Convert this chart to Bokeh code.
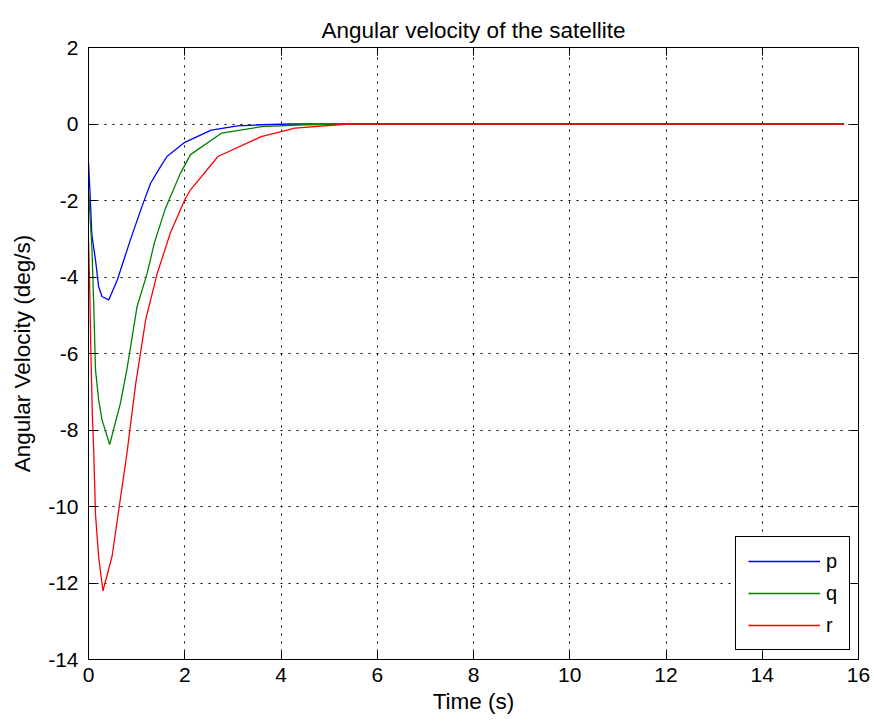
from bokeh.plotting import figure
from bokeh.models import LinearAxis, FixedTicker, Legend, LegendItem, Range1d
from bokeh.embed import file_html
from bokeh.resources import INLINE

# ---- data ----
title_text = "Angular velocity of the satellite"
x_label = "Time (s)"
y_label = "Angular Velocity (deg/s)"
x_ticks = [0, 2, 4, 6, 8, 10, 12, 14, 16]
y_ticks = [-14, -12, -10, -8, -6, -4, -2, 0, 2]

p_t = [0, 0.03, 0.07, 0.145, 0.21, 0.28, 0.42, 0.6, 0.87, 1.11, 1.29, 1.5, 1.63,
       2.0, 2.55, 3.1, 3.6, 4.2, 5.5, 15.7]
p_v = [-1.0, -1.75, -2.9, -3.55, -4.25, -4.51, -4.6, -4.07, -3.03, -2.16, -1.55,
       -1.11, -0.85, -0.48, -0.16, -0.05, -0.02, 0.0, 0.0, 0.0]

q_t = [0, 0.04, 0.07, 0.11, 0.145, 0.21, 0.28, 0.44, 0.665, 0.8, 1.01, 1.22,
       1.37, 1.6, 1.91, 2.12, 2.76, 3.6, 4.5, 5.5, 15.7]
q_v = [-1.7, -2.6, -3.2, -4.77, -6.42, -7.2, -7.73, -8.38, -7.29, -6.4, -4.77,
       -3.9, -3.1, -2.2, -1.29, -0.8, -0.24, -0.07, -0.02, 0.0, 0.0]

r_t = [0, 0.02, 0.05, 0.08, 0.11, 0.145, 0.21, 0.3, 0.49, 0.63, 0.8, 0.98, 1.19,
       1.43, 1.7, 2.0, 2.12, 2.69, 3.59, 4.29, 5.4, 15.7]
r_v = [-3.0, -4.0, -6.0, -7.6, -8.6, -10.2, -11.3, -12.21, -11.3, -10.08, -8.6,
       -6.8, -5.1, -3.9, -2.85, -1.98, -1.72, -0.85, -0.33, -0.11, 0.0, 0.0]

series_names = ["p", "q", "r"]
series_colors = ["#0000ff", "#008000", "#ff0000"]

FONT = "Liberation Sans"

p = figure(width=874, height=722, x_range=Range1d(0, 16), y_range=Range1d(-14, 2),
           output_backend="svg", toolbar_location=None,
           min_border_left=88, min_border_right=16, min_border_top=47, min_border_bottom=63,
           background_fill_color="white", border_fill_color="white")

p.title.text = title_text
p.title.align = "center"
p.title.text_font = FONT
p.title.text_font_size = "22.5px"
p.title.text_font_style = "normal"
p.title.text_color = "black"

p.outline_line_color = "black"
p.outline_line_width = 1
p.outline_line_alpha = 1

for ax in (p.xaxis[0], p.yaxis[0]):
    ax.major_tick_in = 8
    ax.major_tick_out = 0
    ax.minor_tick_line_color = None
    ax.axis_line_color = "black"
    ax.major_tick_line_color = "black"
    ax.major_label_text_font = FONT
    ax.major_label_text_font_size = "21px"
    ax.major_label_text_color = "black"
    ax.axis_label_text_font = FONT
    ax.axis_label_text_font_size = "22.5px"
    ax.axis_label_text_font_style = "normal"
    ax.axis_label_text_color = "black"

p.xaxis.ticker = FixedTicker(ticks=x_ticks)
p.yaxis.ticker = FixedTicker(ticks=y_ticks)
p.yaxis.major_label_overrides = {t: str(t) for t in y_ticks}
p.xaxis.axis_label = x_label
p.yaxis.axis_label = y_label
p.xaxis.major_label_standoff = 8
p.xaxis.axis_label_standoff = 4
p.yaxis.major_label_standoff = 10
p.yaxis.axis_label_standoff = 10

for loc, tick in (("above", x_ticks), ("right", y_ticks)):
    ax = LinearAxis(ticker=FixedTicker(ticks=tick))
    ax.major_tick_in = 8
    ax.major_tick_out = 0
    ax.minor_tick_line_color = None
    ax.major_label_text_color = None
    ax.major_label_text_font_size = "1px"
    ax.major_label_standoff = 0
    ax.axis_line_color = "black"
    ax.major_tick_line_color = "black"
    p.add_layout(ax, loc)

for g in (p.xgrid[0], p.ygrid[0]):
    g.grid_line_color = "black"
    g.grid_line_dash = "2 6"
    g.grid_line_width = 1
    g.grid_line_alpha = 1

renderers = []
for t, v, c in ((p_t, p_v, series_colors[0]), (q_t, q_v, series_colors[1]), (r_t, r_v, series_colors[2])):
    renderers.append(p.line(x=t, y=v, line_color=c, line_width=1.3))

legend = Legend(items=[LegendItem(label=n, renderers=[r]) for n, r in zip(series_names, renderers)],
                location=(647, 9))
legend.border_line_color = "black"
legend.border_line_width = 1
legend.border_line_alpha = 1
legend.background_fill_color = "white"
legend.background_fill_alpha = 1
legend.glyph_width = 72
legend.glyph_height = 24
legend.label_height = 24
legend.label_width = 10
legend.spacing = 8
legend.padding = 12
legend.margin = 0
legend.label_standoff = 6
legend.label_text_font = FONT
legend.label_text_font_size = "20px"
legend.label_text_color = "black"
p.add_layout(legend)

open("out.html", "w").write(file_html(p, INLINE))
